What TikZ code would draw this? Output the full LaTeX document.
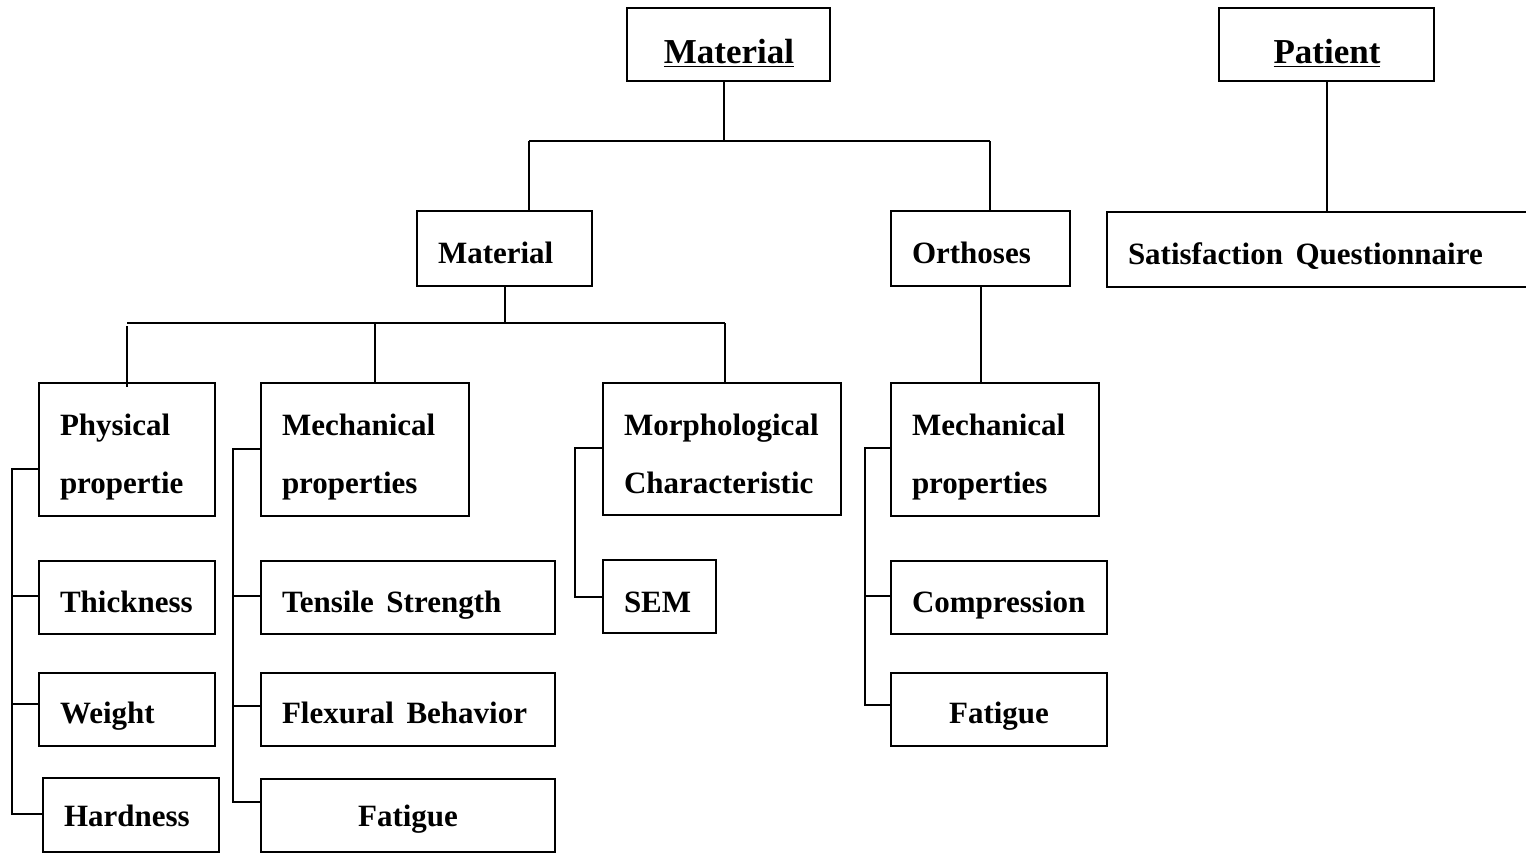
\documentclass[tikz,border=0pt]{standalone}
\usepackage{fontspec}
\setmainfont{Liberation Serif}
\newcommand\mkbox[5]{\node[boxst, minimum width={(#4-#2)*0.5pt}, minimum height={(#5-#3)*0.5pt}] (#1) at ({(#2+#4)/2},{(#3+#5)/2}) {};}
\newcommand\widerspaces{\spaceskip=6.3pt\relax}
\begin{document}
\begin{tikzpicture}[x=0.5pt,y=-0.5pt,
  boxst/.style={draw, line width=1pt, inner sep=0pt, outer sep=0pt, rectangle},
  conn/.style={line width=1pt},
  txt/.style={inner sep=0pt, outer sep=0pt, font=\fontsize{15.5}{18}\selectfont\bfseries\widerspaces},
  ttl/.style={inner sep=0pt, outer sep=0pt, font=\fontsize{17.5}{20}\selectfont\bfseries}]
\useasboundingbox (0,0) rectangle (1526,853);

% boxes
\mkbox{mat}{627}{8}{830}{81}
\mkbox{pat}{1219}{8}{1434}{81}
\mkbox{mat2}{417}{211}{592}{286}
\mkbox{orth}{891}{211}{1070}{286}
\mkbox{sat}{1107}{212}{1530}{287}
\mkbox{phys}{39}{383}{215}{516}
\mkbox{mech}{261}{383}{469}{516}
\mkbox{morph}{603}{383}{841}{515}
\mkbox{omech}{891}{383}{1099}{516}
\mkbox{thick}{39}{561}{215}{634}
\mkbox{weight}{39}{673}{215}{746}
\mkbox{hard}{43}{778}{219}{852}
\mkbox{tens}{261}{561}{555}{634}
\mkbox{flex}{261}{673}{555}{746}
\mkbox{fatm}{261}{779}{555}{852}
\mkbox{sem}{603}{560}{716}{633}
\mkbox{comp}{891}{561}{1107}{634}
\mkbox{fato}{891}{673}{1107}{746}

% texts
\node[ttl, anchor=base] (tmat) at (729,63) {\underline{Material}};
\node[ttl, anchor=base] (tpat) at (1327,63) {\underline{Patient}};
\node[txt, anchor=base west] (tmat2) at (438,263) {Material};
\node[txt, anchor=base west] (torth) at (912,263) {Orthoses};
\node[txt, anchor=base west] (tsat) at (1128,264) {Satisfaction Questionnaire};
\node[txt, anchor=base west] (tphys1) at (60,435) {Physical};
\node[txt, anchor=base west] (tphys2) at (60,493) {propertie};
\node[txt, anchor=base west] (tmech1) at (282,435) {Mechanical};
\node[txt, anchor=base west] (tmech2) at (282,493) {properties};
\node[txt, anchor=base west] (tmorph1) at (624,435) {Morphological};
\node[txt, anchor=base west] (tmorph2) at (624,493) {Characteristic};
\node[txt, anchor=base west] (tomech1) at (912,435) {Mechanical};
\node[txt, anchor=base west] (tomech2) at (912,493) {properties};
\node[txt, anchor=base west] (tthick) at (60,612) {Thickness};
\node[txt, anchor=base west] (tweight) at (60,723) {Weight};
\node[txt, anchor=base west] (thard) at (64,826) {Hardness};
\node[txt, anchor=base west] (ttens) at (282,612) {Tensile Strength};
\node[txt, anchor=base west] (tflex) at (282,723) {Flexural Behavior};
\node[txt, anchor=base] (tfatm) at (408,826) {Fatigue};
\node[txt, anchor=base west] (tsem) at (624,612) {SEM};
\node[txt, anchor=base west] (tcomp) at (912,612) {Compression};
\node[txt, anchor=base] (tfato) at (999,723) {Fatigue};

% junction coordinates
\coordinate (b1) at (724,141);
\coordinate (b1l) at (529,141);
\coordinate (b1r) at (990,141);
\coordinate (b2) at (505,323);
\coordinate (b2l) at (127,323);
\coordinate (b2m) at (375,323);
\coordinate (b2r) at (725,323);
\coordinate (cphys) at (127,326);

% top level connectors
\draw[conn] (mat.south -| b1) -- (b1);
\draw[conn] (b1l) -- (b1r);
\draw[conn] (b1l) -- (mat2.north -| b1l);
\draw[conn] (b1r) -- (orth.north -| b1r);
\draw[conn] (pat.south) -- (pat.south |- sat.north);

% material second level
\draw[conn] (mat2.south -| b2) -- (b2);
\draw[conn] (b2l) -- (b2r);
\draw[conn] (cphys) -- ([yshift=-2pt]phys.north -| cphys);
\draw[conn] (b2m) -- (mech.north -| b2m);
\draw[conn] (b2r) -- (morph.north -| b2r);

% orthoses
\draw[conn] (orth.south) -- (orth.south |- omech.north);

% bracket: physical
\coordinate (p1) at (12,469);
\coordinate (p2) at (12,596);
\coordinate (p3) at (12,704);
\coordinate (p4) at (12,814);
\draw[conn] (phys.west |- p1) -- (p1) -- (p4) -- (hard.west |- p4);
\draw[conn] (p2) -- (thick.west |- p2);
\draw[conn] (p3) -- (weight.west |- p3);

% bracket: mechanical
\coordinate (m1) at (233,449);
\coordinate (m2) at (233,596);
\coordinate (m3) at (233,706);
\coordinate (m4) at (233,802);
\draw[conn] (mech.west |- m1) -- (m1) -- (m4) -- (fatm.west |- m4);
\draw[conn] (m2) -- (tens.west |- m2);
\draw[conn] (m3) -- (flex.west |- m3);

% bracket: morphological
\coordinate (r1) at (575,448);
\coordinate (r2) at (575,597);
\draw[conn] (morph.west |- r1) -- (r1) -- (r2) -- (sem.west |- r2);

% bracket: orthoses mechanical
\coordinate (o1) at (865,448);
\coordinate (o2) at (865,596);
\coordinate (o3) at (865,705);
\draw[conn] (omech.west |- o1) -- (o1) -- (o3) -- (fato.west |- o3);
\draw[conn] (o2) -- (comp.west |- o2);
\end{tikzpicture}
\end{document}
